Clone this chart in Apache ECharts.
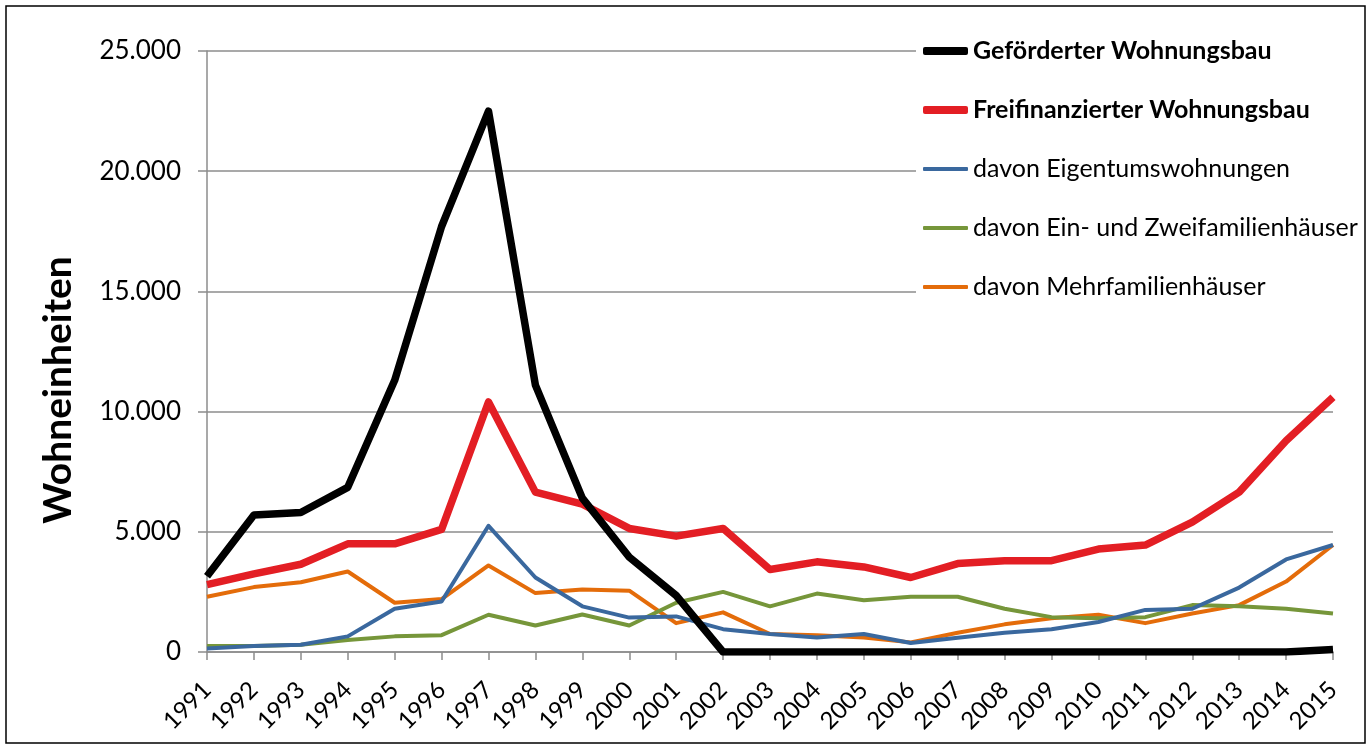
<!DOCTYPE html>
<html>
<head>
<meta charset="utf-8">
<script src="https://cdn.jsdelivr.net/npm/echarts@6/dist/echarts.min.js"></script>
<style>
html,body{margin:0;padding:0;background:#fff;}
#chart{width:1369px;height:747px;}
</style>
</head>
<body>
<div id="chart"></div>
<script>
const years = ['1991','1992','1993','1994','1995','1996','1997','1998','1999','2000','2001','2002','2003','2004','2005','2006','2007','2008','2009','2010','2011','2012','2013','2014','2015'];
const gefoerdert = [3150,5700,5800,6850,11300,17700,22500,11100,6400,3950,2350,0,0,0,0,0,0,0,0,0,0,0,0,0,100];
const freifinanziert = [2800,3250,3650,4500,4500,5100,10400,6650,6150,5140,4820,5140,3430,3750,3540,3100,3680,3800,3800,4280,4450,5400,6650,8790,10600];
const eigentum = [150,250,300,650,1800,2100,5250,3100,1900,1430,1480,950,750,600,750,375,590,800,950,1250,1750,1800,2680,3850,4450];
const einZwei = [250,250,300,500,650,700,1550,1100,1560,1100,2050,2500,1900,2430,2150,2300,2300,1800,1450,1400,1450,1950,1900,1800,1600];
const mehrfam = [2300,2700,2900,3350,2050,2200,3600,2450,2600,2550,1200,1650,750,700,600,400,800,1150,1400,1550,1200,1600,1950,2930,4450];
const yTicks = [0,5000,10000,15000,20000,25000];
const names = ['Geförderter Wohnungsbau','Freifinanzierter Wohnungsbau','davon Eigentumswohnungen','davon Ein- und Zweifamilienhäuser','davon Mehrfamilienhäuser'];
const yTitle = 'Wohneinheiten';

const FONT = 'Lato';
const chart = echarts.init(document.getElementById('chart'));
function fmt(v){ return v === 0 ? '0' : (v/1000).toFixed(0) + '.000'; }
function mk(name, data, color, width, z){
  return {name:name, type:'line', data:data, symbol:'none', showSymbol:false, z:z,
    lineStyle:{color:color, width:width, join:'round', cap:'butt'}, itemStyle:{color:color}, animation:false};
}
const legendText = {fontFamily:FONT, fontSize:25, color:'#000', lineHeight:26};
chart.setOption({
  animation:false,
  backgroundColor:'#fff',
  graphic:[
    {type:'rect', shape:{x:6,y:6,width:1359,height:737}, style:{fill:'none', stroke:'#000', lineWidth:1.5}, z:-1},
    {type:'rect', shape:{x:916,y:28,width:430,height:280}, style:{fill:'#fff'}, z:3},
    {type:'text', x:58, y:390, rotation:Math.PI/2, z:5,
      style:{text:yTitle, font:'bold 39px Lato', fill:'#000', textAlign:'center', textVerticalAlign:'middle'}}
  ],
  grid:{left:207, top:51, right:36, bottom:95, containLabel:false},
  xAxis:{type:'category', data:years, boundaryGap:false,
    axisLine:{lineStyle:{color:'#8c8c8c', width:1.5}},
    axisTick:{show:true, length:8, inside:false, lineStyle:{color:'#8c8c8c', width:1.5}},
    axisLabel:{rotate:45, fontFamily:FONT, fontSize:24, color:'#000', margin:34, interval:0},
    splitLine:{show:false}},
  yAxis:{type:'value', min:yTicks[0], max:yTicks[yTicks.length-1], interval:5000,
    axisLine:{show:true, lineStyle:{color:'#8c8c8c', width:1.5}},
    axisTick:{show:true, length:9, inside:false, lineStyle:{color:'#8c8c8c', width:1.5}},
    axisLabel:{formatter:fmt, fontFamily:FONT, fontSize:26, color:'#000', margin:26},
    splitLine:{show:true, lineStyle:{color:'#8c8c8c', width:1.5}}},
  legend:[
    {orient:'vertical', left:923, top:38, padding:0, itemWidth:45, itemHeight:8, itemGap:33, z:10,
      icon:'roundRect', textStyle:Object.assign({}, legendText, {fontWeight:'bold'}),
      data:[names[0], names[1]]},
    {orient:'vertical', left:923, top:156, padding:0, itemWidth:45, itemHeight:4, itemGap:33, z:10,
      icon:'roundRect', textStyle:legendText,
      data:[names[2], names[3], names[4]]}
  ],
  series:[
    mk(names[4], mehrfam, '#e46c0a', 4, 2),
    mk(names[3], einZwei, '#76963a', 4, 2),
    mk(names[2], eigentum, '#3a689e', 4, 2),
    mk(names[1], freifinanziert, '#e31e24', 7.5, 2),
    mk(names[0], gefoerdert, '#000000', 7.5, 2)
  ]
});
</script>
</body>
</html>
